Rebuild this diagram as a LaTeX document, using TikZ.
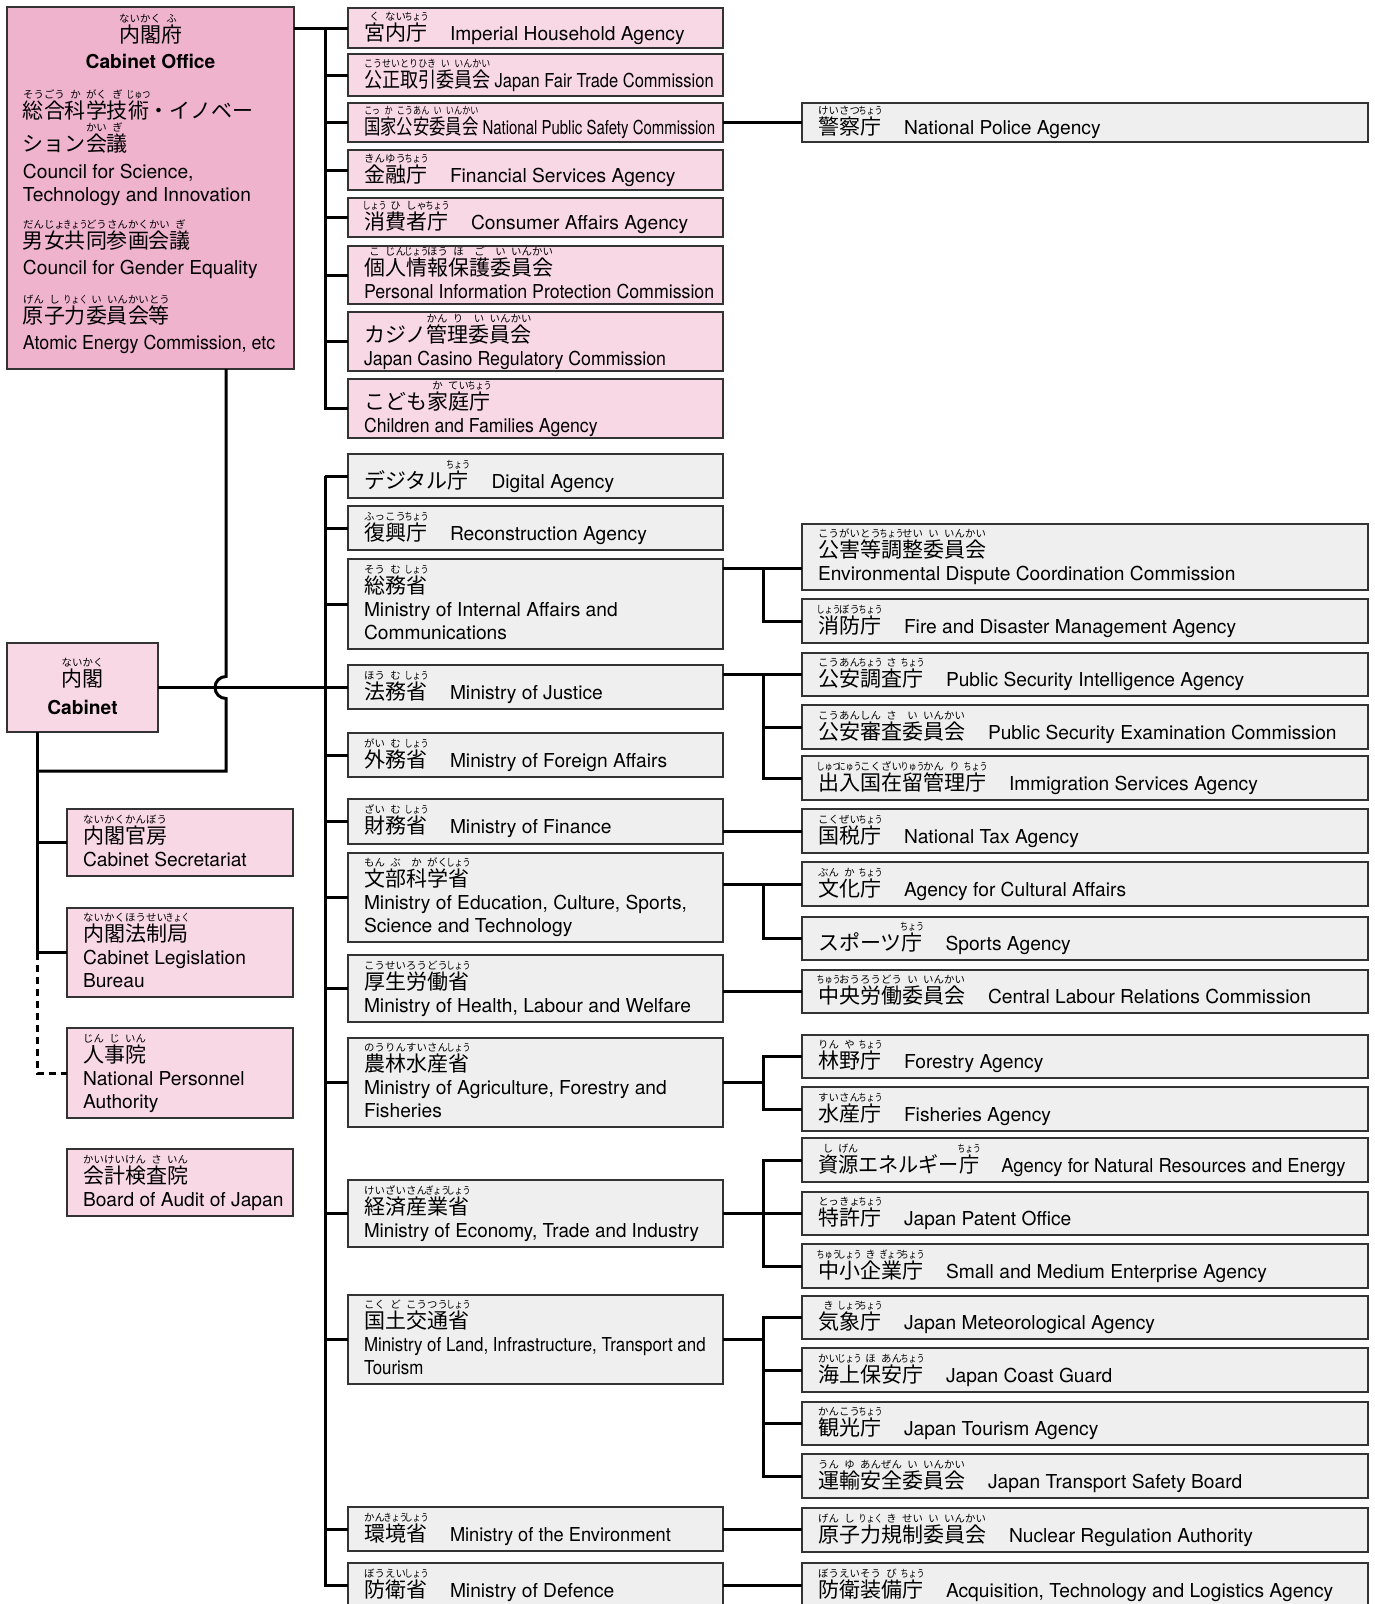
\documentclass[tikz,border=0pt]{standalone}
\usepackage{fontspec}
\setmainfont{TeX Gyre Heros}
\newfontfamily\jpfam{Noto Sans CJK JP}
\usepackage{graphicx}
\definecolor{pinkD}{HTML}{EFB3CD}
\definecolor{pinkL}{HTML}{F8D8E4}
\definecolor{grayL}{HTML}{EFEFEF}
\definecolor{edge}{HTML}{333333}
\newsavebox\rbK
\newsavebox\rbR
\newcommand\jpf{\jpfam\fontsize{21}{23}\selectfont}
\newcommand\rubyf{\jpfam\fontsize{10.4}{11}\selectfont}
\newcommand\jt[1]{{\jpf #1}}
\newcommand\gapx{\hspace{23pt}}
\newcommand\dpx{\rule[-4pt]{0pt}{4pt}}
\newcommand\rby[2]{%
  \sbox\rbK{\jpf #1}%
  \sbox\rbR{\rubyf #2}%
  \ifdim\wd\rbR>\dimexpr\wd\rbK+3pt\relax
    \sbox\rbR{\resizebox{\dimexpr\wd\rbK+3pt\relax}{\height}{\copy\rbR}}%
  \fi
  \ht\rbK=18pt \ht\rbR=8.5pt \dp\rbR=1.5pt
  \leavevmode\vbox{\offinterlineskip\hbox to \wd\rbK{\hss\copy\rbR\hss}\kern0.5pt\copy\rbK}%
}
\newcommand\bx[7]{%
  \node[#2, minimum width={(#5-#3)*1pt}, minimum height={(#6-#4)*1pt}, anchor=north west] (#1) at (#3,#4) {};
  \node[txt, anchor=west] (#1t) at ([xshift=16pt]#1.west) {#7};}

\begin{document}
\begin{tikzpicture}[x=1pt,y=-1pt,
  box/.style={draw=edge, line width=1.8pt, inner sep=0pt, outer sep=0pt},
  pk/.style={box, fill=pinkL},
  pd/.style={box, fill=pinkD},
  gy/.style={box, fill=grayL},
  txt/.style={inner sep=0pt, outer sep=0pt, align=left, font=\fontsize{19.2}{23}\selectfont},
  lbl/.style={inner sep=0pt, outer sep=0pt, font=\fontsize{19.2}{23}\selectfont},
  conn/.style={line width=3pt, draw=black},
  dashconn/.style={conn, dash pattern=on 7pt off 5pt}]

\useasboundingbox (0,0) rectangle (1375,1604);
\fill[white] (0,0) rectangle (1375,1604);

% ---------- Cabinet Office ----------
\node[pd, minimum width=287pt, minimum height=362pt, anchor=north west] (co) at (7,7) {};
\node[lbl, anchor=base] (co1) at (150.5,42) {\rby{内}{ない}\rby{閣}{かく}\rby{府}{ふ}};
\node[lbl, anchor=base] (co2) at (150.5,68) {\bfseries Cabinet Office};
\node[lbl, anchor=base west] (co3) at (23,118) {\rby{総}{そう}\rby{合}{ごう}\rby{科}{か}\rby{学}{がく}\rby{技}{ぎ}\rby{術}{じゅつ}\jt{・イノベー}};
\node[lbl, anchor=base west] (co4) at (23,151) {\jt{ション}\rby{会}{かい}\rby{議}{ぎ}};
\node[lbl, anchor=base west] (co5) at (23,178) {Council for Science,};
\node[lbl, anchor=base west] (co6) at (23,201) {Technology and Innovation};
\node[lbl, anchor=base west] (co7) at (23,248) {\rby{男}{だん}\rby{女}{じょ}\rby{共}{きょう}\rby{同}{どう}\rby{参}{さん}\rby{画}{かく}\rby{会}{かい}\rby{議}{ぎ}};
\node[lbl, anchor=base west] (co8) at (23,274) {Council for Gender Equality};
\node[lbl, anchor=base west] (co9) at (23,323) {\rby{原}{げん}\rby{子}{し}\rby{力}{りょく}\rby{委}{い}\rby{員}{いん}\rby{会}{かい}\rby{等}{とう}};
\node[lbl, anchor=base west] (co10) at (23,349) {\scalebox{0.93}[1]{Atomic Energy Commission, etc}};

% ---------- Cabinet ----------
\node[pk, minimum width=151pt, minimum height=89pt, anchor=north west] (cab) at (7,643) {};
\node[lbl, anchor=base] (cab1) at (82.5,686) {\rby{内}{ない}\rby{閣}{かく}};
\node[lbl, anchor=base] (cab2) at (82.5,714) {\bfseries Cabinet};

% ---------- left column ----------
\bx{s1}{pk}{67}{809}{293}{876}{\rby{内}{ない}\rby{閣}{かく}\rby{官}{かん}\rby{房}{ぼう}\\ Cabinet Secretariat\dpx}
\bx{s2}{pk}{67}{908}{293}{997}{\rby{内}{ない}\rby{閣}{かく}\rby{法}{ほう}\rby{制}{せい}\rby{局}{きょく}\\ Cabinet Legislation\\ Bureau\dpx}
\bx{s3}{pk}{67}{1028}{293}{1118}{\rby{人}{じん}\rby{事}{じ}\rby{院}{いん}\\ National Personnel\\ Authority\dpx}
\bx{s4}{pk}{67}{1149}{293}{1216}{\rby{会}{かい}\rby{計}{けい}\rby{検}{けん}\rby{査}{さ}\rby{院}{いん}\\ Board of Audit of Japan\dpx}

% ---------- upper pink column ----------
\bx{p1}{pk}{348}{8}{723}{48}{\rby{宮}{く}\rby{内}{ない}\rby{庁}{ちょう}\gapx Imperial Household Agency\dpx}
\bx{p2}{pk}{348}{54}{723}{96}{\scalebox{0.86}[1]{\rby{公}{こう}\rby{正}{せい}\rby{取}{とり}\rby{引}{ひき}\rby{委}{い}\rby{員}{いん}\rby{会}{かい}\hspace{5pt}Japan Fair Trade Commission\dpx}}
\bx{p3}{pk}{348}{103}{723}{142}{\scalebox{0.78}[1]{\rby{国}{こっ}\rby{家}{か}\rby{公}{こう}\rby{安}{あん}\rby{委}{い}\rby{員}{いん}\rby{会}{かい}\hspace{5pt}National Public Safety Commission\dpx}}
\bx{p4}{pk}{348}{150}{723}{190}{\rby{金}{きん}\rby{融}{ゆう}\rby{庁}{ちょう}\gapx Financial Services Agency\dpx}
\bx{p5}{pk}{348}{198}{723}{237}{\rby{消}{しょう}\rby{費}{ひ}\rby{者}{しゃ}\rby{庁}{ちょう}\gapx Consumer Affairs Agency\dpx}
\bx{p6}{pk}{348}{246}{723}{304}{\rby{個}{こ}\rby{人}{じん}\rby{情}{じょう}\rby{報}{ほう}\rby{保}{ほ}\rby{護}{ご}\rby{委}{い}\rby{員}{いん}\rby{会}{かい}\\ \scalebox{0.925}[1]{Personal Information Protection Commission}\dpx}
\bx{p7}{pk}{348}{312}{723}{371}{\jt{カジノ}\rby{管}{かん}\rby{理}{り}\rby{委}{い}\rby{員}{いん}\rby{会}{かい}\\ \scalebox{0.925}[1]{Japan Casino Regulatory Commission}\dpx}
\bx{p8}{pk}{348}{379}{723}{438}{\jt{こども}\rby{家}{か}\rby{庭}{てい}\rby{庁}{ちょう}\\ \scalebox{0.92}[1]{Children and Families Agency}\dpx}

\bx{police}{gy}{802}{103}{1368}{142}{\rby{警}{けい}\rby{察}{さつ}\rby{庁}{ちょう}\gapx National Police Agency\dpx}

% ---------- ministries ----------
\bx{m1}{gy}{348}{454}{723}{498}{\jt{デジタル}\rby{庁}{ちょう}\gapx Digital Agency\dpx}
\bx{m2}{gy}{348}{506}{723}{550}{\rby{復}{ふっ}\rby{興}{こう}\rby{庁}{ちょう}\gapx Reconstruction Agency\dpx}
\bx{m3}{gy}{348}{559}{723}{649}{\rby{総}{そう}\rby{務}{む}\rby{省}{しょう}\\ Ministry of Internal Affairs and\\ Communications\dpx}
\bx{m4}{gy}{348}{665}{723}{709}{\rby{法}{ほう}\rby{務}{む}\rby{省}{しょう}\gapx Ministry of Justice\dpx}
\bx{m5}{gy}{348}{733}{723}{777}{\rby{外}{がい}\rby{務}{む}\rby{省}{しょう}\gapx Ministry of Foreign Affairs\dpx}
\bx{m6}{gy}{348}{799}{723}{844}{\rby{財}{ざい}\rby{務}{む}\rby{省}{しょう}\gapx Ministry of Finance\dpx}
\bx{m7}{gy}{348}{853}{723}{942}{\rby{文}{もん}\rby{部}{ぶ}\rby{科}{か}\rby{学}{がく}\rby{省}{しょう}\\ Ministry of Education, Culture, Sports,\\ Science and Technology\dpx}
\bx{m8}{gy}{348}{955}{723}{1022}{\rby{厚}{こう}\rby{生}{せい}\rby{労}{ろう}\rby{働}{どう}\rby{省}{しょう}\\ Ministry of Health, Labour and Welfare\dpx}
\bx{m9}{gy}{348}{1038}{723}{1127}{\rby{農}{のう}\rby{林}{りん}\rby{水}{すい}\rby{産}{さん}\rby{省}{しょう}\\ Ministry of Agriculture, Forestry and\\ Fisheries\dpx}
\bx{m10}{gy}{348}{1180}{723}{1247}{\rby{経}{けい}\rby{済}{ざい}\rby{産}{さん}\rby{業}{ぎょう}\rby{省}{しょう}\\ \scalebox{0.98}[1]{Ministry of Economy, Trade and Industry}\dpx}
\bx{m11}{gy}{348}{1295}{723}{1384}{\rby{国}{こく}\rby{土}{ど}\rby{交}{こう}\rby{通}{つう}\rby{省}{しょう}\\ \scalebox{0.88}[1]{Ministry of Land, Infrastructure, Transport and}\\ \scalebox{0.88}[1]{Tourism}\dpx}
\bx{m12}{gy}{348}{1507}{723}{1551}{\rby{環}{かん}\rby{境}{きょう}\rby{省}{しょう}\gapx\scalebox{0.95}[1]{Ministry of the Environment}\dpx}
\bx{m13}{gy}{348}{1563}{723}{1607}{\rby{防}{ぼう}\rby{衛}{えい}\rby{省}{しょう}\gapx Ministry of Defence\dpx}

% ---------- agencies ----------
\bx{r1}{gy}{802}{524}{1368}{590}{\rby{公}{こう}\rby{害}{がい}\rby{等}{とう}\rby{調}{ちょう}\rby{整}{せい}\rby{委}{い}\rby{員}{いん}\rby{会}{かい}\\ Environmental Dispute Coordination Commission\dpx}
\bx{r2}{gy}{802}{599}{1368}{643}{\rby{消}{しょう}\rby{防}{ぼう}\rby{庁}{ちょう}\gapx Fire and Disaster Management Agency\dpx}
\bx{r3}{gy}{802}{653}{1368}{696}{\rby{公}{こう}\rby{安}{あん}\rby{調}{ちょう}\rby{査}{さ}\rby{庁}{ちょう}\gapx Public Security Intelligence Agency\dpx}
\bx{r4}{gy}{802}{705}{1368}{749}{\rby{公}{こう}\rby{安}{あん}\rby{審}{しん}\rby{査}{さ}\rby{委}{い}\rby{員}{いん}\rby{会}{かい}\gapx Public Security Examination Commission\dpx}
\bx{r5}{gy}{802}{756}{1368}{800}{\rby{出}{しゅつ}\rby{入}{にゅう}\rby{国}{こく}\rby{在}{ざい}\rby{留}{りゅう}\rby{管}{かん}\rby{理}{り}\rby{庁}{ちょう}\gapx Immigration Services Agency\dpx}
\bx{r6}{gy}{802}{809}{1368}{853}{\rby{国}{こく}\rby{税}{ぜい}\rby{庁}{ちょう}\gapx National Tax Agency\dpx}
\bx{r7}{gy}{802}{862}{1368}{906}{\rby{文}{ぶん}\rby{化}{か}\rby{庁}{ちょう}\gapx Agency for Cultural Affairs\dpx}
\bx{r8}{gy}{802}{917}{1368}{960}{\jt{スポーツ}\rby{庁}{ちょう}\gapx Sports Agency\dpx}
\bx{r9}{gy}{802}{970}{1368}{1013}{\rby{中}{ちゅう}\rby{央}{おう}\rby{労}{ろう}\rby{働}{どう}\rby{委}{い}\rby{員}{いん}\rby{会}{かい}\gapx Central Labour Relations Commission\dpx}
\bx{r10}{gy}{802}{1035}{1368}{1078}{\rby{林}{りん}\rby{野}{や}\rby{庁}{ちょう}\gapx Forestry Agency\dpx}
\bx{r11}{gy}{802}{1087}{1368}{1131}{\rby{水}{すい}\rby{産}{さん}\rby{庁}{ちょう}\gapx Fisheries Agency\dpx}
\bx{r12}{gy}{802}{1138}{1368}{1182}{\scalebox{0.96}[1]{\rby{資}{し}\rby{源}{げん}\jt{エネルギー}\rby{庁}{ちょう}\gapx Agency for Natural Resources and Energy\dpx}}
\bx{r13}{gy}{802}{1192}{1368}{1235}{\rby{特}{とっ}\rby{許}{きょ}\rby{庁}{ちょう}\gapx Japan Patent Office\dpx}
\bx{r14}{gy}{802}{1244}{1368}{1288}{\rby{中}{ちゅう}\rby{小}{しょう}\rby{企}{き}\rby{業}{ぎょう}\rby{庁}{ちょう}\gapx Small and Medium Enterprise Agency\dpx}
\bx{r15}{gy}{802}{1296}{1368}{1339}{\rby{気}{き}\rby{象}{しょう}\rby{庁}{ちょう}\gapx Japan Meteorological Agency\dpx}
\bx{r16}{gy}{802}{1348}{1368}{1392}{\rby{海}{かい}\rby{上}{じょう}\rby{保}{ほ}\rby{安}{あん}\rby{庁}{ちょう}\gapx Japan Coast Guard\dpx}
\bx{r17}{gy}{802}{1402}{1368}{1445}{\rby{観}{かん}\rby{光}{こう}\rby{庁}{ちょう}\gapx Japan Tourism Agency\dpx}
\bx{r18}{gy}{802}{1454}{1368}{1498}{\rby{運}{うん}\rby{輸}{ゆ}\rby{安}{あん}\rby{全}{ぜん}\rby{委}{い}\rby{員}{いん}\rby{会}{かい}\gapx Japan Transport Safety Board\dpx}
\bx{r19}{gy}{802}{1508}{1368}{1552}{\rby{原}{げん}\rby{子}{し}\rby{力}{りょく}\rby{規}{き}\rby{制}{せい}\rby{委}{い}\rby{員}{いん}\rby{会}{かい}\gapx Nuclear Regulation Authority\dpx}
\bx{r20}{gy}{802}{1563}{1368}{1607}{\rby{防}{ぼう}\rby{衛}{えい}\rby{装}{そう}\rby{備}{び}\rby{庁}{ちょう}\gapx Acquisition, Technology and Logistics Agency\dpx}

% ---------- coordinates ----------
\coordinate (t1) at (325,0);
\coordinate (st) at (763,0);
\coordinate (lv) at (37,0);
\coordinate (cx) at (226,0);
\coordinate (lh) at (0,771);
\coordinate (jp) at (cx |- cab.east);
\coordinate (k3) at (763,568);

% ---------- connectors ----------
\draw[conn] (co.east |- p1.west) -- (t1 |- p1.west) -- (t1 |- p8.west) -- (p8.west);
\foreach \k in {1,...,7} { \draw[conn] (t1 |- p\k.west) -- (p\k.west); }
\draw[conn] (p3.east) -- (police.west);

\draw[conn] (t1 |- m1.west) -- (t1 |- m13.west) -- (m13.west);
\foreach \k in {1,...,12} { \draw[conn] (t1 |- m\k.west) -- (m\k.west); }

\draw[conn] (cab.east) -- (t1 |- cab.east);
\draw[conn] (cx |- co.south) -- ([yshift=11pt]jp) arc[start angle=90, end angle=270, radius=11pt] -- (cx |- lh) -- (lv |- lh);

\draw[conn] (lv |- cab.south) -- (lv |- s2.west) -- (s2.west);
\draw[conn] (lv |- s1.west) -- (s1.west);
\draw[dashconn] (lv |- s2.west) -- (lv |- s3.west) -- (s3.west);

\draw[conn] (m3.east |- k3) -- (r1.west |- k3);
\draw[conn] (k3) -- (st |- r2.west) -- (r2.west);

\draw[conn] (m4.east |- r3.west) -- (r3.west);
\draw[conn] (st |- r3.west) -- (st |- r5.west) -- (r5.west);
\draw[conn] (st |- r4.west) -- (r4.west);

\draw[conn] (m6.east |- r6.west) -- (r6.west);

\draw[conn] (m7.east |- r7.west) -- (r7.west);
\draw[conn] (st |- r7.west) -- (st |- r8.west) -- (r8.west);

\draw[conn] (m8.east |- r9.west) -- (r9.west);

\draw[conn] (m9.east) -- (st |- m9.east);
\draw[conn] (r10.west) -- (st |- r10.west) -- (st |- r11.west) -- (r11.west);

\draw[conn] (m10.east |- r13.west) -- (r13.west);
\draw[conn] (r12.west) -- (st |- r12.west) -- (st |- r14.west) -- (r14.west);

\draw[conn] (m11.east) -- (st |- m11.east);
\draw[conn] (r15.west) -- (st |- r15.west) -- (st |- r18.west) -- (r18.west);
\draw[conn] (st |- r16.west) -- (r16.west);
\draw[conn] (st |- r17.west) -- (r17.west);

\draw[conn] (m12.east) -- (m12.east -| r19.west);
\draw[conn] (m13.east |- r20.west) -- (r20.west);
\end{tikzpicture}
\end{document}
